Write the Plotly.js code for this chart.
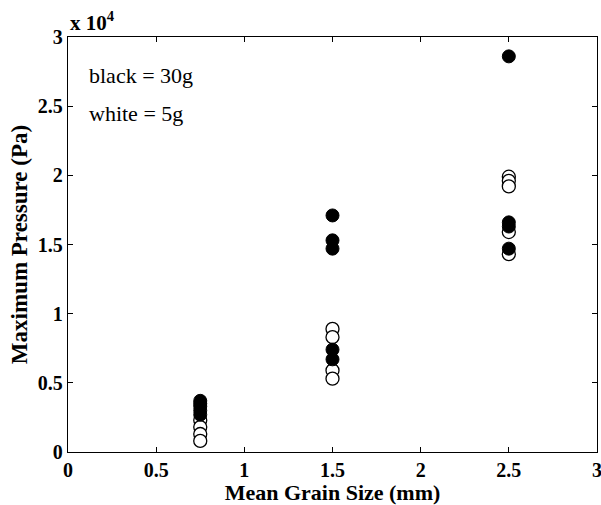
<!DOCTYPE html>
<html><head><meta charset="utf-8">
<script src="https://cdn.plot.ly/plotly-3.0.1.min.js"></script>
<style>html,body{margin:0;padding:0;background:#fff}#chart{width:601px;height:505px}</style>
</head><body><div id="chart"></div>
<script>
// Data (pressure in units of 1e4 Pa)
var grainSizes = [0.75, 1.5, 2.5];
var black30x = [0.75,0.75,0.75,0.75,0.75, 1.5,1.5,1.5,1.5,1.5, 2.5,2.5,2.5,2.5];
var black30y = [0.37,0.35,0.33,0.30,0.27, 1.71,1.53,1.47,0.74,0.67, 2.86,1.66,1.63,1.47];
var white5x = [0.75,0.75,0.75,0.75, 1.5,1.5,1.5,1.5, 2.5,2.5,2.5,2.5,2.5];
var white5y = [0.23,0.18,0.13,0.08, 0.89,0.83,0.59,0.53, 1.99,1.96,1.92,1.59,1.43];
var xTicks = [0,0.5,1,1.5,2,2.5,3];
var xTickText = ['0','0.5','1','1.5','2','2.5','3'];
var yTicks = [0,0.5,1,1.5,2,2.5,3];
var yTickText = ['0','0.5','1','1.5','2','2.5','3'];

var serif = 'Liberation Serif, Times New Roman, serif';
function bold(a){ return a.map(function(s){ return '<b>' + s + '</b>'; }); }
var traces = [
  {x: white5x, y: white5y, type:'scatter', mode:'markers', name:'white = 5g',
   marker:{symbol:'circle', size:13, color:'#ffffff', line:{color:'#000', width:1.3}}},
  {x: black30x, y: black30y, type:'scatter', mode:'markers', name:'black = 30g',
   marker:{symbol:'circle', size:13, color:'#000', line:{color:'#000', width:1}}}
];
var axisCommon = {
  showgrid:false, zeroline:false, showline:true, linecolor:'#000', linewidth:1.3,
  mirror:'ticks', ticks:'inside', ticklen:5, tickwidth:1, tickcolor:'#000',
  ticklabeloverflow:'allow',
  tickfont:{family:serif, size:20, color:'#000'}
};
var layout = {
  width:601, height:505,
  margin:{l:68, r:4, t:37, b:53},
  paper_bgcolor:'#fff', plot_bgcolor:'#fff',
  showlegend:false,
  xaxis: Object.assign({}, axisCommon, {
    range:[0,3], tickvals:xTicks, ticktext:bold(xTickText), ticklabelstandoff:0,
    title:{text:'<b>Mean Grain Size (mm)</b>', font:{family:serif, size:22, color:'#000'}, standoff:2}
  }),
  yaxis: Object.assign({}, axisCommon, {
    range:[0,3], tickvals:yTicks, ticktext:bold(yTickText), ticklabelstandoff:0,
    title:{text:'<b>Maximum Pressure (Pa)</b>', font:{family:serif, size:23, color:'#000'}, standoff:3}
  }),
  annotations:[
    {xref:'paper', yref:'paper', x:0, y:1, xanchor:'left', yanchor:'bottom', yshift:0, xshift:0,
     text:'<b>x 10<sup>4</sup></b>', showarrow:false, font:{family:serif, size:21, color:'#000'}},
    {xref:'x', yref:'y', x:0.11, y:2.72, xanchor:'left', yanchor:'middle',
     text:'black = 30g', showarrow:false, font:{family:serif, size:22, color:'#000'}},
    {xref:'x', yref:'y', x:0.11, y:2.45, xanchor:'left', yanchor:'middle',
     text:'white = 5g', showarrow:false, font:{family:serif, size:22, color:'#000'}}
  ]
};
Plotly.newPlot('chart', traces, layout, {displayModeBar:false, staticPlot:true});
</script>
</body></html>
